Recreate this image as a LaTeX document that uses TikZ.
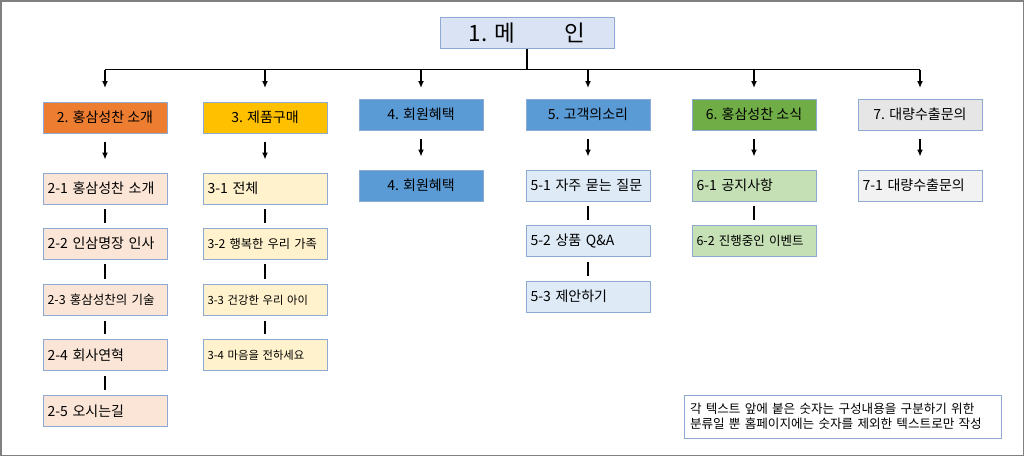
\documentclass[tikz,border=0pt]{standalone}
\usepackage{fontspec}
\setmainfont{Noto Sans CJK KR}
\usepackage{tikz}
\usetikzlibrary{arrows.meta,positioning}

\definecolor{boxline}{RGB}{143,170,210}
\definecolor{titlefill}{RGB}{218,227,243}
\definecolor{orangefill}{RGB}{237,125,49}
\definecolor{goldfill}{RGB}{255,192,0}
\definecolor{bluefill}{RGB}{91,155,213}
\definecolor{greenfill}{RGB}{112,173,71}
\definecolor{grayfill}{RGB}{231,230,230}
\definecolor{peachfill}{RGB}{251,229,214}
\definecolor{creamfill}{RGB}{255,242,204}
\definecolor{paleblue}{RGB}{222,235,247}
\definecolor{palegreen}{RGB}{197,224,180}
\definecolor{palegray}{RGB}{242,242,242}
\definecolor{framegray}{RGB}{128,128,128}

\newcommand{\fs}[1]{\fontsize{#1}{#1}\selectfont}

\tikzset{
  box/.style={draw=boxline,line width=0.9pt,minimum width=124pt,minimum height=31pt,
              inner sep=0pt,font=\fs{14}},
  subbox/.style={box,text width=115pt,inner xsep=4.5pt,align=left},
  arr/.style={line width=1.5pt,-{Latex[length=7pt,width=6pt]}},
  link/.style={line width=2pt,shorten <=5pt,shorten >=5pt}
}

\begin{document}
\begin{tikzpicture}[x=1pt,y=-1pt]
\useasboundingbox (0,0) rectangle (1024,456);
\draw[framegray,line width=1.5pt] (0.75,0.75) rectangle (1023.25,455.25);

% top
\node[draw=boxline,fill=titlefill,line width=0.9pt,minimum width=174pt,minimum height=31pt,
      inner sep=0pt,font=\fs{22.5}] (title) at (527,33)
      {1. 메\hspace{50pt}인};

% first level
\node[box,fill=orangefill] (m2) at (105,117.5) {2. 홍삼성찬 소개};
\node[box,fill=goldfill]   (m3) at (265,117.5) {3. 제품구매};
\node[box,fill=bluefill]   (m4) at (421,114.5) {4. 회원혜택};
\node[box,fill=bluefill]   (m5) at (588,114.5) {5. 고객의소리};
\node[box,fill=greenfill]  (m6) at (754,114.5) {6. 홍삼성찬 소식};
\node[box,fill=grayfill]   (m7) at (920,114.5) {7. 대량수출문의};

\coordinate (bus) at (527,69.5);
\coordinate (tip) at (527,88);
\draw[line width=2.6pt] (title.south) -- (title |- bus);
\draw[line width=1.8pt] (m2 |- bus) -- (m7 |- bus);
\foreach \i in {2,...,7}
  \draw[arr] (m\i |- bus) -- (m\i |- tip);

% second level
\node[subbox,fill=peachfill] (s21) at (105,188.5) {2-1 홍삼성찬 소개};
\node[subbox,fill=peachfill] (s22) at (105,243.5) {2-2 인삼명장 인사};
\node[subbox,fill=peachfill,font=\fs{12.5}] (s23) at (105,300) {2-3 홍삼성찬의 기술};
\node[subbox,fill=peachfill] (s24) at (105,355) {2-4 회사연혁};
\node[subbox,fill=peachfill] (s25) at (105,411) {2-5 오시는길};

\node[subbox,fill=creamfill] (s31) at (265,188.5) {3-1 전체};
\node[subbox,fill=creamfill,font=\fs{12.3}] (s32) at (265,243.5) {3-2 행복한 우리 가족};
\node[subbox,fill=creamfill,font=\fs{11.3}] (s33) at (265,300) {3-3 건강한 우리 아이};
\node[subbox,fill=creamfill,font=\fs{11.3}] (s34) at (265,355) {3-4 마음을 전하세요};

\node[box,fill=bluefill] (s41) at (421,185.5) {4. 회원혜택};

\node[subbox,fill=paleblue] (s51) at (588,185.5) {5-1 자주 묻는 질문};
\node[subbox,fill=paleblue] (s52) at (588,241) {5-2 상품 Q\&A};
\node[subbox,fill=paleblue] (s53) at (588,296.5) {5-3 제안하기};

\node[subbox,fill=palegreen] (s61) at (754,185.5) {6-1 공지사항};
\node[subbox,fill=palegreen,font=\fs{12.5}] (s62) at (754,241) {6-2 진행중인 이벤트};

\node[subbox,fill=palegray] (s71) at (920,185.5) {7-1 대량수출문의};

\foreach \i in {2,...,7}
  \draw[arr,shorten <=9pt,shorten >=13pt] (m\i) -- (s\i1);

\draw[link] (s21) -- (s22);
\draw[link] (s22) -- (s23);
\draw[link] (s23) -- (s24);
\draw[link] (s24) -- (s25);
\draw[link] (s31) -- (s32);
\draw[link] (s32) -- (s33);
\draw[link] (s33) -- (s34);
\draw[link] (s51) -- (s52);
\draw[link] (s52) -- (s53);
\draw[link] (s61) -- (s62);

% note
\node[draw=boxline,line width=0.9pt,minimum width=317pt,minimum height=43pt,
      text width=305pt,inner xsep=6pt,align=left,
      font=\fontsize{12.6}{15}\selectfont] (note) at (842.5,416.5)
      {각 텍스트 앞에 붙은 숫자는 구성내용을 구분하기 위한\\
       분류일 뿐 홈페이지에는 숫자를 제외한 텍스트로만 작성};
\end{tikzpicture}
\end{document}
